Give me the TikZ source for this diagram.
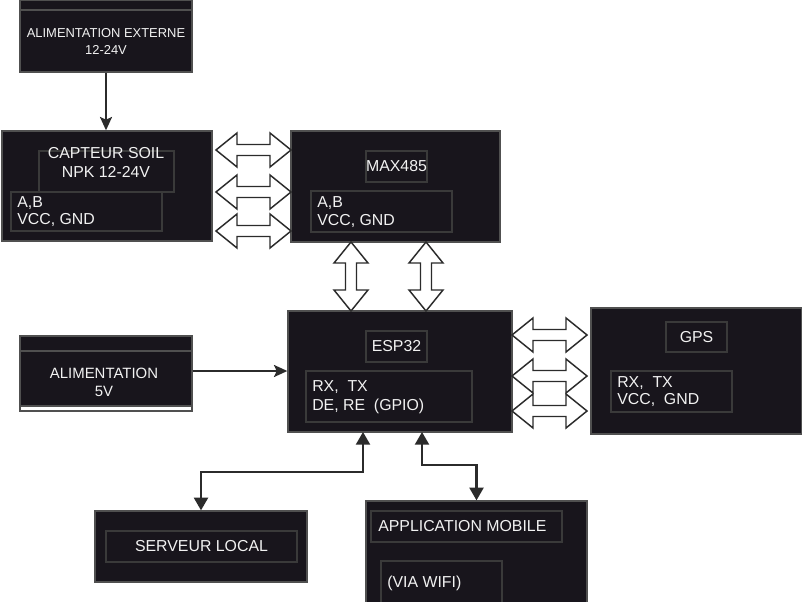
\documentclass[tikz,border=0pt]{standalone}
\usepackage{fontspec}
\setmainfont{Liberation Sans}
\usetikzlibrary{fit,arrows.meta}
\definecolor{boxfill}{HTML}{18151C}
\definecolor{boxline}{HTML}{505050}
\definecolor{inline}{HTML}{3A3A3A}
\definecolor{wtext}{HTML}{F2F2F2}
\definecolor{connc}{HTML}{2B2B2B}
\newcommand\fatH[3]{\draw[fat] (#1,#3) -- ({#1+21},{#3-17}) -- ({#1+21},{#3-5.5}) -- ({#2-21},{#3-5.5}) -- ({#2-21},{#3-17}) -- (#2,#3) -- ({#2-21},{#3+17}) -- ({#2-21},{#3+5.5}) -- ({#1+21},{#3+5.5}) -- ({#1+21},{#3+17}) -- cycle;}
\newcommand\fatV[3]{\draw[fat] (#1,#2) -- ({#1+17},{#2+21}) -- ({#1+5.5},{#2+21}) -- ({#1+5.5},{#3-21}) -- ({#1+17},{#3-21}) -- (#1,#3) -- ({#1-17},{#3-21}) -- ({#1-5.5},{#3-21}) -- ({#1-5.5},{#2+21}) -- ({#1-17},{#2+21}) -- cycle;}
\begin{document}
\begin{tikzpicture}[x=0.75pt,y=-0.75pt,
 outer/.style={draw=boxline, fill=boxfill, line width=1pt, inner sep=0pt},
 innerbox/.style={draw=inline, line width=1pt, inner sep=0pt},
 lbl/.style={text=wtext, font=\fontsize{11.9}{13.5}\selectfont, inner sep=0pt, align=center},
 lbll/.style={lbl, align=left, anchor=west},
 conn/.style={draw=connc, line width=1.6pt},
 stip/.style={-{Stealth[length=10pt,width=9pt,inset=2pt]}},
 btips/.style={{Triangle[length=9.5pt,width=10.5pt]}-{Triangle[length=9.5pt,width=10.5pt]}},
 fat/.style={draw=connc, fill=white, line width=1.1pt, line join=miter}]
\useasboundingbox (0,0) rectangle (802,602);
\fill[white] (0,0) rectangle (802,602);
\clip (0,0) rectangle (802,602);

% Alimentation externe
\node[outer, fit={(20,0.5)(192,72)}] (ext) {};
\draw[boxline, line width=1pt] (20,10) -- (192,10);
\node[lbl, font=\fontsize{9.7}{12.75}\selectfont] (extT) at (106,41.5) {ALIMENTATION EXTERNE\\12-24V};

% Capteur
\node[outer, fit={(2,131)(212,241)}] (cap) {};
\node[innerbox, fit={(39,151)(174,192)}] (capI) {};
\node[innerbox, fit={(11,192)(162,231)}] (capP) {};
\node[lbl, font=\fontsize{11.9}{14.25}\selectfont] (capT) at (106,162.5) {CAPTEUR SOIL\\NPK 12-24V};
\node[lbll, font=\fontsize{11.9}{12.75}\selectfont] (capPT) at (17,211.5) {A,B\\VCC, GND};

% MAX485
\node[outer, fit={(291,131)(500,242)}] (max) {};
\node[innerbox, fit={(366,151)(427,182)}] (maxI) {};
\node[lbl] (maxT) at (maxI) {MAX485};
\node[innerbox, fit={(311,191)(452,232)}] (maxP) {};
\node[lbll, font=\fontsize{11.9}{13.5}\selectfont] (maxPT) at (317,212) {A,B\\VCC, GND};

% ESP32
\node[outer, fit={(288,311)(512,432)}] (esp) {};
\node[innerbox, fit={(366,331)(427,362)}] (espI) {};
\node[lbl] (espT) at (espI) {ESP32};
\node[innerbox, fit={(306,371)(472,422)}] (espP) {};
\node[lbll, font=\fontsize{11.9}{14.25}\selectfont] (espPT) at (312,397.5) {RX,\ \ TX\\DE, RE\ \ (GPIO)};

% GPS
\node[outer, fit={(591,308)(801.5,434)}] (gps) {};
\node[innerbox, fit={(666,322)(727,352)}] (gpsI) {};
\node[lbl] (gpsT) at (gpsI) {GPS};
\node[innerbox, fit={(611,371)(732,412)}] (gpsP) {};
\node[lbll, font=\fontsize{11.9}{12.75}\selectfont] (gpsPT) at (617,391.5) {RX,\ \ TX\\VCC,\ \ GND};

% Alimentation 5V
\node[outer, fit={(20,336)(192,406)}] (alim) {};
\draw[boxline, line width=1pt] (20,351) -- (192,351);
\draw[boxline, fill=white, line width=1pt] (20,406) rectangle (192,411);
\node[lbl, font=\fontsize{11.2}{13.5}\selectfont] (alimT) at (104,382) {ALIMENTATION\\5V};

% Serveur local
\node[outer, fit={(95,511)(307,582)}] (serv) {};
\node[innerbox, fit={(106,531)(297,562)}] (servI) {};
\node[lbl] (servT) at (servI) {SERVEUR LOCAL};

% Application mobile
\node[outer, fit={(366,501)(587,610)}] (app) {};
\node[innerbox, fit={(371,511)(562,542)}] (appI) {};
\node[lbll] (appT) at (378,526.5) {APPLICATION MOBILE};
\node[innerbox, fit={(381,561)(502,615)}] (appW) {};
\node[lbll] (appWT) at (387,583) {(VIA WIFI)};

% connectors
\draw[conn, stip] (ext.south) -- (ext.south |- cap.north);
\draw[conn, stip] (alim.east) -- (esp.west |- alim.east);
\coordinate (e1) at (363,432);
\coordinate (e2) at (422,432);
\draw[conn, btips] (e1) -- ++(0,40) -| (serv.north);
\draw[conn, btips] (e2) -- ++(0,33) -| (app.north);

% fat double arrows
\fatH{216}{291}{150}
\fatH{216}{291}{192}
\fatH{216}{291}{231}
\fatV{351}{242}{311}
\fatV{426}{242}{311}
\fatH{512}{587}{335}
\fatH{512}{587}{376}
\fatH{512}{587}{411}
\end{tikzpicture}
\end{document}
